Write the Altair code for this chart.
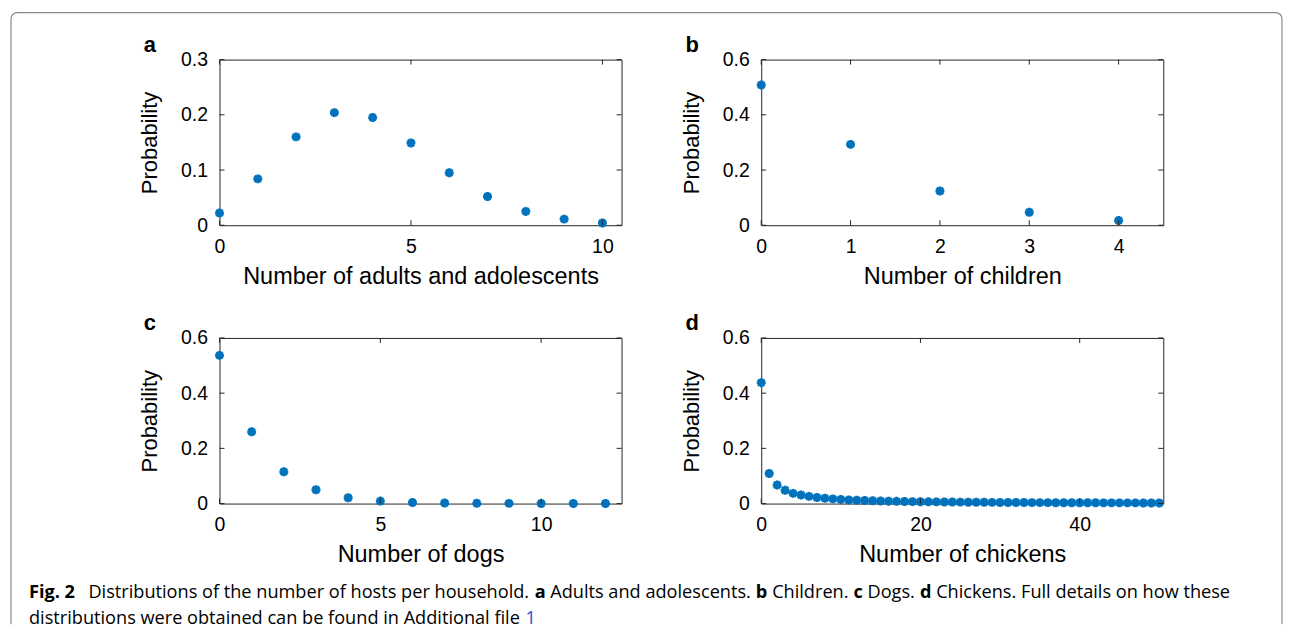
import math
import altair as alt
import pandas as pd

# ---------------- data ----------------
adults_x = list(range(0, 11))
adults_p = [0.022, 0.084, 0.160, 0.204, 0.195, 0.149, 0.095, 0.052, 0.025, 0.011, 0.004]

children_x = list(range(0, 5))
children_p = [0.508, 0.293, 0.124, 0.047, 0.017]

dogs_x = list(range(0, 13))
dogs_p = [0.537, 0.260, 0.115, 0.050, 0.021, 0.009, 0.004, 0.002, 0.001, 0.0006,
          0.0004, 0.0003, 0.0002]

chickens_x = list(range(0, 51))
chickens_p = [0.438, 0.109, 0.067, 0.048, 0.037, 0.031, 0.026, 0.022, 0.019, 0.017,
              0.015, 0.013, 0.012, 0.011, 0.010, 0.0093, 0.0087, 0.0081, 0.0076, 0.0071,
              0.0067, 0.0063, 0.0060, 0.0057, 0.0054, 0.0051, 0.0049, 0.0047, 0.0045, 0.0043,
              0.0041, 0.0039, 0.0038, 0.0036, 0.0035, 0.0034, 0.0033, 0.0032, 0.0031, 0.0030,
              0.0029, 0.0028, 0.0027, 0.0026, 0.0026, 0.0025, 0.0024, 0.0024, 0.0023, 0.0022,
              0.0022]

x_titles = ["Number of adults and adolescents", "Number of children",
            "Number of dogs", "Number of chickens"]
y_title = "Probability"
panel_labels = ["a", "b", "c", "d"]
x_domains = [[0, 10.5], [0, 4.5], [0, 12.5], [0, 50.5]]
y_domains = [[0, 0.3], [0, 0.6], [0, 0.6], [0, 0.6]]
x_ticks = [[0, 5, 10], [0, 1, 2, 3, 4], [0, 5, 10], [0, 20, 40]]
y_ticks = [[0, 0.1, 0.2, 0.3], [0, 0.2, 0.4, 0.6], [0, 0.2, 0.4, 0.6], [0, 0.2, 0.4, 0.6]]

caption_line1 = [("Fig. 2", True, "#000000"),
                 ("Distributions of the number of hosts per household.", False, "#000000"),
                 ("a", True, "#000000"), ("Adults and adolescents.", False, "#000000"),
                 ("b", True, "#000000"), ("Children.", False, "#000000"),
                 ("c", True, "#000000"), ("Dogs.", False, "#000000"),
                 ("d", True, "#000000"), ("Chickens. Full details on how these", False, "#000000")]
caption_line2 = [("distributions were obtained can be found in Additional file", False, "#000000"),
                 ("1", False, "#1f4fd6")]

# ---------------- styling / layout ----------------
W, H = 403, 166
FONT = "Liberation Sans"
CAP_FONT = "Open Sans"
BLUE = "#0072BD"
AX = "#262626"
TICK = 5
BORDER = "#8a8a8a"
ASTERISK = "M-1,0L1,0M0,-1L0,1M-0.72,-0.72L0.72,0.72M-0.72,0.72L0.72,-0.72"

# approximate Open Sans advance widths (em) used to lay the caption segments out
REG = {' ': 0.26, 'a': 0.556, 'b': 0.613, 'c': 0.476, 'd': 0.613, 'e': 0.561, 'f': 0.339,
       'g': 0.548, 'h': 0.614, 'i': 0.253, 'j': 0.253, 'k': 0.525, 'l': 0.253, 'm': 0.930,
       'n': 0.614, 'o': 0.604, 'p': 0.613, 'q': 0.613, 'r': 0.408, 's': 0.477, 't': 0.353,
       'u': 0.614, 'v': 0.501, 'w': 0.778, 'x': 0.524, 'y': 0.502, 'z': 0.477, 'A': 0.633,
       'B': 0.648, 'C': 0.631, 'D': 0.729, 'F': 0.549, '1': 0.572, '2': 0.572, '.': 0.266}
BOLD = {'F': 0.58, 'i': 0.29, 'g': 0.56, '.': 0.29, ' ': 0.26, '2': 0.572, 'a': 0.59,
        'b': 0.635, 'c': 0.514, 'd': 0.635}


def em(txt, bold):
    tab = BOLD if bold else REG
    return sum(tab.get(ch, REG.get(ch, 0.55)) for ch in txt)


GAP_FIG = 0.72   # wide gap after "Fig. 2"
LINE_LEFT, LINE1_RIGHT = 27, 1232   # page px of caption line 1
C_ORIGIN_X = 218                    # page px of panel c's plot left edge

starts_em, cur = [], 0.0
for k, (txt, bold, _) in enumerate(caption_line1):
    starts_em.append(cur)
    cur += em(txt, bold) + (GAP_FIG if k == 0 else REG[' '])
total_em = cur - REG[' ']
CAP_SIZE = (LINE1_RIGHT - LINE_LEFT) / total_em
cap1_x = [LINE_LEFT - C_ORIGIN_X + s * CAP_SIZE for s in starts_em]
cap2_x = [LINE_LEFT - C_ORIGIN_X,
          LINE_LEFT - C_ORIGIN_X + (em(caption_line2[0][0], False) + REG[' ']) * CAP_SIZE]
cap1_y, cap2_y = 261, 287


def panel(xs, ps, i, extra=None):
    xscale = alt.Scale(domain=x_domains[i], nice=False, zero=False)
    yscale = alt.Scale(domain=y_domains[i], nice=False, zero=False)
    xaxis = alt.Axis(values=x_ticks[i], title=x_titles[i], grid=False,
                     ticks=False, tickSize=0, domain=False, labelPadding=12,
                     labelFontSize=19.5, titleFontSize=23.5, titlePadding=9,
                     labelFont=FONT, titleFont=FONT, labelColor="#000",
                     titleColor="#000", titleFontWeight="normal", labelFlush=False)
    yaxis = alt.Axis(values=y_ticks[i], title=y_title, grid=False, format="~g",
                     ticks=False, tickSize=0, domain=False, labelPadding=12,
                     labelFontSize=19.5, titleFontSize=22, titlePadding=19,
                     labelFont=FONT, titleFont=FONT, labelColor="#000",
                     titleColor="#000", titleFontWeight="normal", labelFlush=False)
    df = pd.DataFrame({"x": xs, "p": ps})
    pts = alt.Chart(df).mark_point(
        shape=ASTERISK, filled=False, stroke=BLUE, strokeWidth=2.8, size=80, opacity=1
    ).encode(
        x=alt.X("x:Q", scale=xscale, axis=xaxis),
        y=alt.Y("p:Q", scale=yscale, axis=yaxis),
    )
    xt = pd.DataFrame({"x": x_ticks[i]})
    yt = pd.DataFrame({"p": y_ticks[i]})
    xb = alt.Chart(xt).mark_rule(color=AX, strokeWidth=1).encode(
        x=alt.X("x:Q", scale=xscale, axis=xaxis), y=alt.value(H - TICK), y2=alt.value(H))
    xtop = alt.Chart(xt).mark_rule(color=AX, strokeWidth=1).encode(
        x=alt.X("x:Q", scale=xscale, axis=xaxis), y=alt.value(0), y2=alt.value(TICK))
    yl = alt.Chart(yt).mark_rule(color=AX, strokeWidth=1).encode(
        y=alt.Y("p:Q", scale=yscale, axis=yaxis), x=alt.value(0), x2=alt.value(TICK))
    yr = alt.Chart(yt).mark_rule(color=AX, strokeWidth=1).encode(
        y=alt.Y("p:Q", scale=yscale, axis=yaxis), x=alt.value(W - TICK), x2=alt.value(W))
    lab = alt.Chart(one).mark_text(
        text=panel_labels[i], align="left", baseline="alphabetic", font=FONT,
        fontSize=22, fontWeight="bold", color="#000"
    ).encode(x=alt.value(-76), y=alt.value(-8))
    layers = [pts, xb, xtop, yl, yr, lab]
    if extra:
        layers += extra
    return alt.layer(*layers).properties(width=W, height=H)


one = alt.Data(values=[{}])

# border (rounded top corners) drawn around the whole figure, relative to panel a
L, T, R, B, RAD = -209, -47, 1065, 566, 6
border = [
    alt.Chart(one).mark_rule(color=BORDER, strokeWidth=1.2).encode(
        x=alt.value(L), y=alt.value(T + RAD), y2=alt.value(B)),
    alt.Chart(one).mark_rule(color=BORDER, strokeWidth=1.2).encode(
        x=alt.value(R), y=alt.value(T + RAD), y2=alt.value(B)),
    alt.Chart(one).mark_rule(color=BORDER, strokeWidth=1.2).encode(
        y=alt.value(T), x=alt.value(L + RAD), x2=alt.value(R - RAD)),
    alt.Chart(one).mark_arc(color=BORDER, x=L + RAD, y=T + RAD, radius=RAD + 0.6,
                            radius2=RAD - 0.6, theta=1.5 * math.pi, theta2=2 * math.pi),
    alt.Chart(one).mark_arc(color=BORDER, x=R - RAD, y=T + RAD, radius=RAD + 0.6,
                            radius2=RAD - 0.6, theta=0, theta2=0.5 * math.pi),
]

caption = []
for (txt, bold, col), px in zip(caption_line1, cap1_x):
    caption.append(alt.Chart(one).mark_text(
        text=txt, align="left", baseline="alphabetic", font=CAP_FONT, fontSize=CAP_SIZE,
        fontWeight="bold" if bold else "normal", color=col
    ).encode(x=alt.value(px), y=alt.value(cap1_y)))
for (txt, bold, col), px in zip(caption_line2, cap2_x):
    caption.append(alt.Chart(one).mark_text(
        text=txt, align="left", baseline="alphabetic", font=CAP_FONT, fontSize=CAP_SIZE,
        fontWeight="bold" if bold else "normal", color=col
    ).encode(x=alt.value(px), y=alt.value(cap2_y)))

pa = panel(adults_x, adults_p, 0, extra=border)
pb = panel(children_x, children_p, 1)
pc = panel(dogs_x, dogs_p, 2, extra=caption)
pd_ = panel(chickens_x, chickens_p, 3)

chart = alt.concat(pa, pb, pc, pd_, columns=2).properties(
    spacing={"row": 113, "column": 140},
    bounds="flush",
    padding={"left": 1, "top": 2, "right": 0, "bottom": 0},
    background="white",
).configure_view(stroke=AX, strokeWidth=1)

chart.save("out.html", embed_options={"renderer": "svg", "actions": False})
